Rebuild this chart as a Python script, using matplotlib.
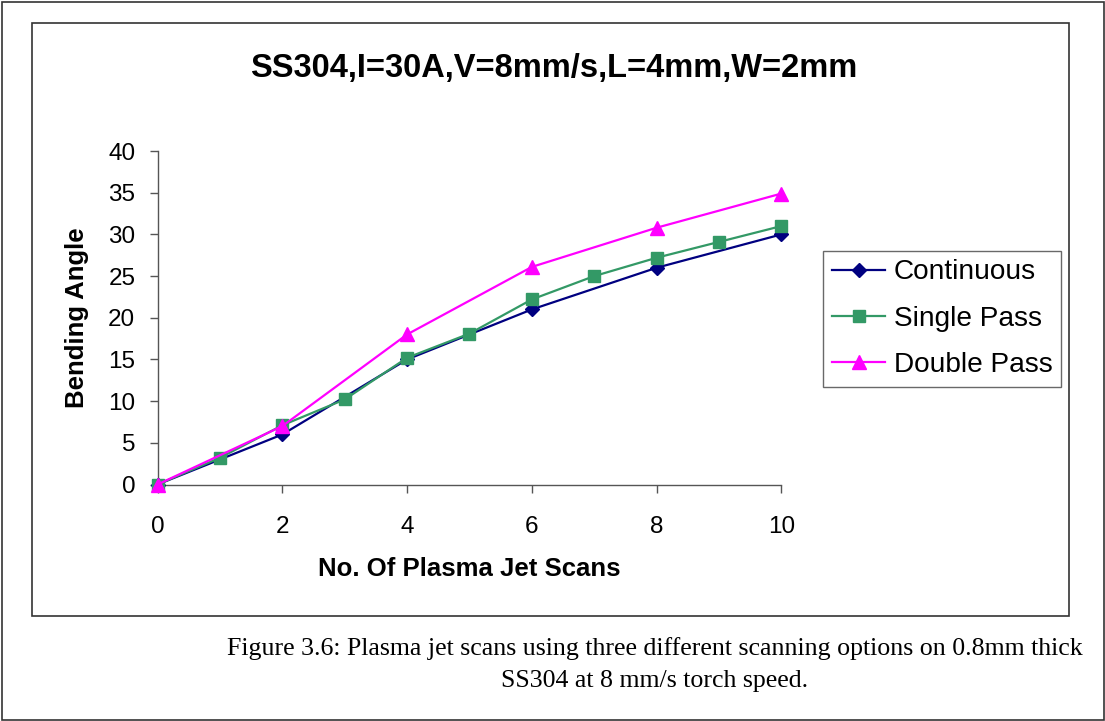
import matplotlib
matplotlib.use("Agg")
import matplotlib.pyplot as plt
from matplotlib.patches import Rectangle

W, H = 1105, 721

scans_even = [0, 2, 4, 6, 8, 10]
scans_all = [0, 1, 2, 3, 4, 5, 6, 7, 8, 9, 10]
continuous = [0, 6, 15, 21, 26, 30]
single_pass = [0, 3.2, 7.1, 10.2, 15.2, 18.1, 22.2, 25.0, 27.2, 29.1, 31.0]
double_pass = [0, 7, 18, 26.1, 30.8, 34.9]
x_ticks = [0, 2, 4, 6, 8, 10]
y_ticks = [0, 5, 10, 15, 20, 25, 30, 35, 40]

title = "SS304,I=30A,V=8mm/s,L=4mm,W=2mm"
caption1 = "Figure 3.6: Plasma jet scans using three different scanning options on 0.8mm thick"
caption2 = "SS304 at 8 mm/s torch speed."

plt.rcParams['font.family'] = ['Liberation Sans', 'DejaVu Sans']

fig = plt.figure(figsize=(W / 100, H / 100), dpi=100)

def fx(px):
    return px / W

def fy(py):
    return 1 - py / H

# outer border and inner chart frame
fig.add_artist(Rectangle((fx(1.5), fy(719.5)), fx(1102) - fx(0), fy(0) - fy(718),
                         transform=fig.transFigure, fill=False, edgecolor='#333333', lw=1.2))
fig.add_artist(Rectangle((fx(32), fy(616)), fx(1069 - 32), fy(0) - fy(616 - 23),
                         transform=fig.transFigure, fill=False, edgecolor='#333333', lw=1.2))

ax = fig.add_axes([fx(157.5), fy(484.5), fx(781.5 - 157.5), fy(0) - fy(484.5 - 151)])

ax.plot(scans_even, continuous, color='#000080', lw=1.6, marker='D', ms=7.5,
        label='Continuous', clip_on=False, zorder=3)
ax.plot(scans_all, single_pass, color='#339966', lw=1.6, marker='s', ms=8.5,
        label='Single Pass', clip_on=False, zorder=4)
ax.plot(scans_even, double_pass, color='#FF00FF', lw=1.6, marker='^', ms=10.5,
        label='Double Pass', clip_on=False, zorder=5)

ax.set_xlim(0, 10)
ax.set_ylim(0, 40)
ax.set_xticks(x_ticks)
ax.set_yticks(y_ticks)
ax.spines['top'].set_visible(False)
ax.spines['right'].set_visible(False)
for s in ('left', 'bottom'):
    ax.spines[s].set_color('#555555')
    ax.spines[s].set_linewidth(1.0)
ax.tick_params(axis='both', direction='out', length=6, width=1.0, color='#555555',
               labelsize=17.5)
ax.tick_params(axis='x', pad=17)
ax.tick_params(axis='y', pad=10)

ax.set_xlabel("No. Of Plasma Jet Scans", fontsize=18.5, fontweight='bold', labelpad=13)
ax.set_ylabel("Bending Angle", fontsize=18.5, fontweight='bold', labelpad=14)

fig.text(fx(554), fy(68), title, fontsize=23.5, fontweight='bold', ha='center', va='center')

leg = fig.legend(loc='upper left', bbox_to_anchor=(fx(823), fy(250.5)), fontsize=20.2,
                 frameon=True, fancybox=False, edgecolor='#444444', handlelength=1.9,
                 borderpad=0.32, labelspacing=0.72, handletextpad=0.3, borderaxespad=0)
leg.get_frame().set_linewidth(1.0)

fig.text(fx(654.5), fy(655), caption1, fontsize=18.6, family='Liberation Serif',
         ha='center', va='baseline')
fig.text(fx(654.5), fy(687), caption2, fontsize=18.6, family='Liberation Serif',
         ha='center', va='baseline')

fig.savefig("out.png", dpi=100)
